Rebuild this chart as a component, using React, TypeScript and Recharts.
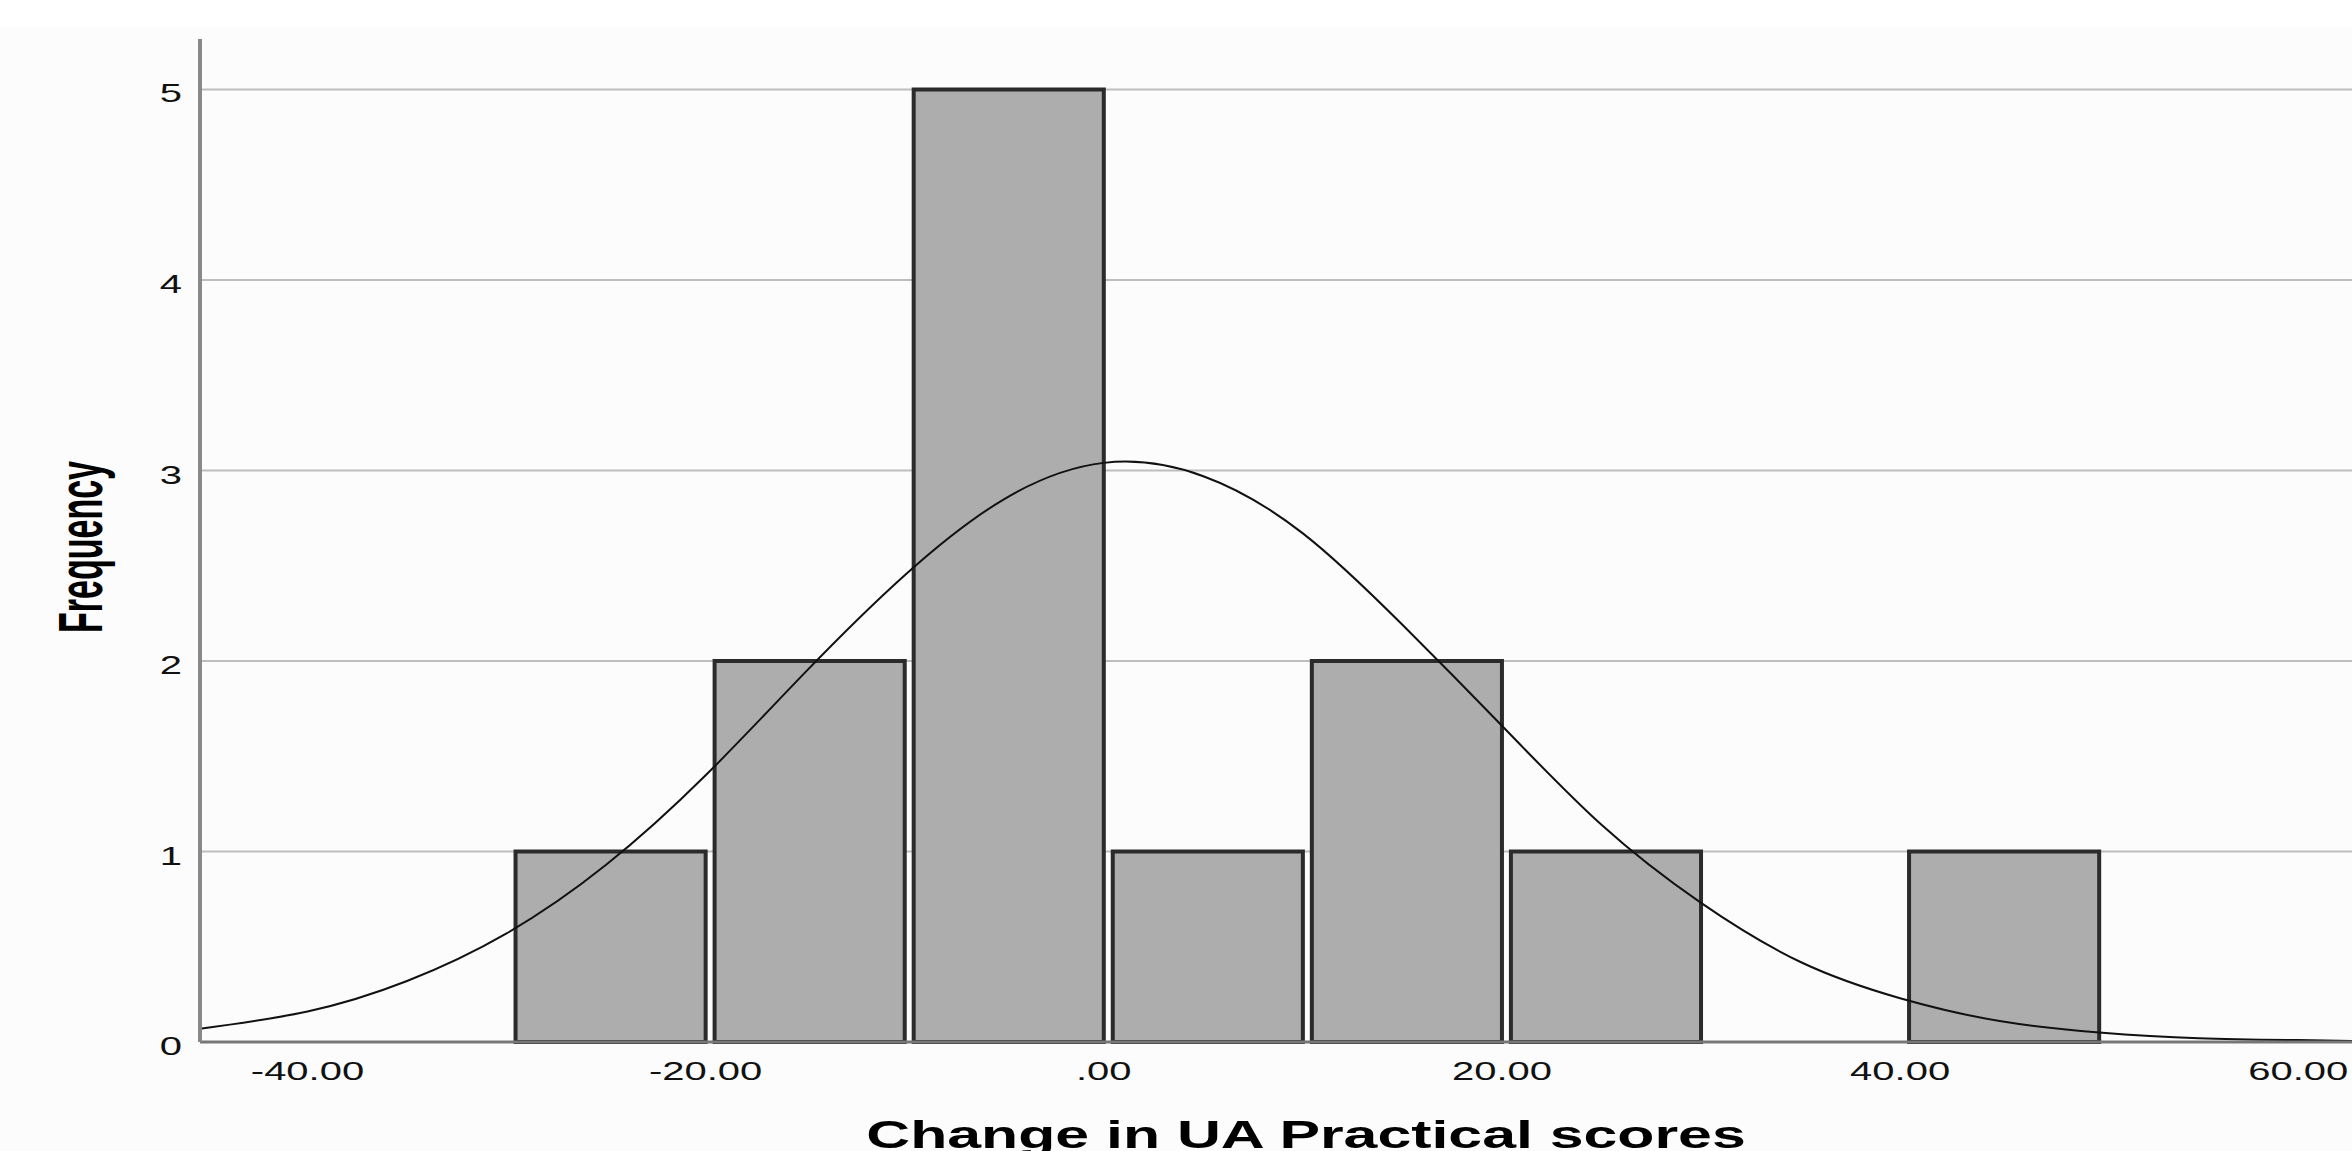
import { ComposedChart, Line, XAxis, YAxis, CartesianGrid, ReferenceArea, Label } from "recharts";

// histogram bins (lower edge) and their frequencies
const binStarts = [-30, -20, -10, 0, 10, 20, 40];
const binCounts = [1, 2, 5, 1, 2, 1, 1];
const binWidth = 10;
const barGap = 0.45;

// normal curve
const curveX = [-45.4, -40, -35, -30, -25, -20, -15, -10, -5, 0, 5, 10, 15, 20, 25, 30, 35, 40, 45, 50, 55, 60, 62.7];
const curveY = [0.07, 0.16, 0.32, 0.57, 0.93, 1.4, 1.94, 2.45, 2.85, 3.04, 2.97, 2.67, 2.19, 1.66, 1.14, 0.73, 0.42, 0.23, 0.11, 0.05, 0.02, 0.01, 0.005];

const xTicks = [-40, -20, 0, 20, 40, 60];
const yTicks = [0, 1, 2, 3, 4, 5];

const curveData = curveX.map((x, i) => ({ x, y: curveY[i] }));

const font = "'Liberation Sans', Arial, sans-serif";
const fmt = (v: number) => (v === 0 ? ".00" : v.toFixed(2));

const XTick = (props: any) => {
  const { x, y, payload } = props;
  return (
    <g transform={`translate(${x},${y})`}>
      <text transform="scale(1.6,1)" textAnchor="middle" y={30} fontSize={25} fill="#111" fontFamily={font}>
        {fmt(payload.value)}
      </text>
    </g>
  );
};

const YTick = (props: any) => {
  const { x, y, payload } = props;
  return (
    <g transform={`translate(${x - 10},${y})`}>
      <text transform="scale(1.6,1)" textAnchor="end" y={13} fontSize={25} fill="#111" fontFamily={font}>
        {payload.value}
      </text>
    </g>
  );
};

export default function App() {
  return (
    <div style={{ position: "absolute", left: 0, top: 0, width: 2352, height: 1151, background: "#fff", overflow: "hidden" }}>
      <div style={{ marginTop: 27, background: "#fcfcfc", width: 2352, height: 1124 }}>
        <ComposedChart width={2352} height={1124} data={curveData} margin={{ top: 12, right: 0, bottom: 0, left: 0 }}>
          <CartesianGrid vertical={false} horizontalValues={yTicks.slice(1)} stroke="#bdbdbd" strokeWidth={2} />
          <XAxis
            type="number"
            dataKey="x"
            domain={[-45.4, 62.7]}
            allowDataOverflow
            ticks={xTicks}
            height={109}
            tickLine={false}
            axisLine={{ stroke: "#777", strokeWidth: 3 }}
            tick={<XTick />}
          >
            <Label
              content={() => (
                <text
                  transform="translate(1306,1121) scale(1.6,1)"
                  textAnchor="middle"
                  fontSize={38}
                  fontWeight="bold"
                  fill="#000"
                  fontFamily={font}
                >
                  Change in UA Practical scores
                </text>
              )}
            />
          </XAxis>
          <YAxis
            type="number"
            domain={[0, 5.265]}
            allowDataOverflow
            ticks={yTicks}
            width={200}
            tickLine={false}
            axisLine={{ stroke: "#888", strokeWidth: 4 }}
            tick={<YTick />}
          >
            <Label
              content={() => (
                <text
                  transform="translate(80,520) rotate(-90) scale(1,1.85)"
                  textAnchor="middle"
                  dominantBaseline="central"
                  fontSize={34}
                  fontWeight="bold"
                  fill="#000"
                  fontFamily={font}
                >
                  Frequency
                </text>
              )}
            />
          </YAxis>
          {binStarts.map((s, i) => (
            <ReferenceArea
              key={s}
              x1={s + barGap}
              x2={s + binWidth}
              y1={0}
              y2={binCounts[i]}
              fill="#adadad"
              fillOpacity={1}
              stroke="#2b2b2b"
              strokeWidth={4}
              ifOverflow="visible"
            />
          ))}
          <Line type="natural" dataKey="y" stroke="#111" strokeWidth={2} dot={false} isAnimationActive={false} />
        </ComposedChart>
      </div>
    </div>
  );
}
